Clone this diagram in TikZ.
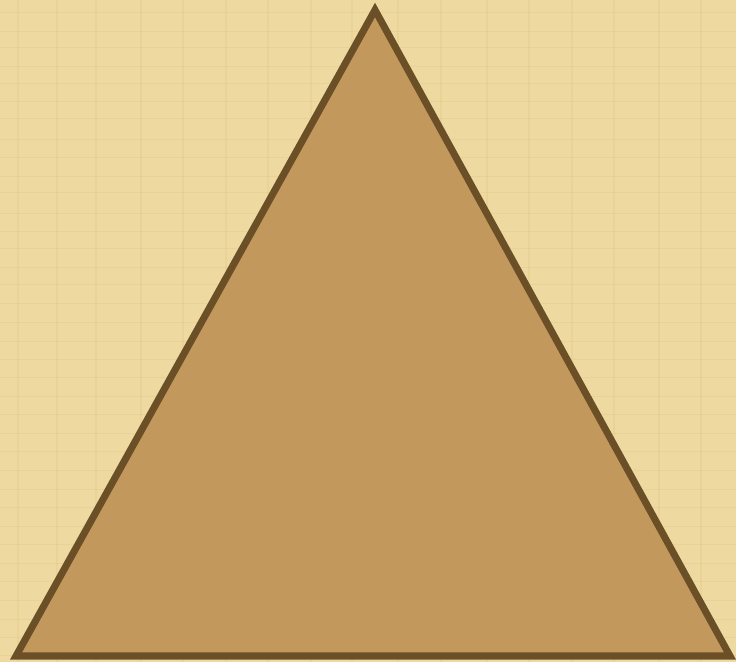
\documentclass[tikz,border=0pt]{standalone}
\usepackage{tikz}
\definecolor{papyrus}{RGB}{238,218,160}
\definecolor{papyrusdark}{RGB}{222,196,130}
\definecolor{pyramidfill}{RGB}{194,152,92}
\definecolor{pyramidline}{RGB}{107,79,38}
\tikzset{
  pyramid/.style={
    draw=pyramidline,
    fill=pyramidfill,
    line width=5pt,
    miter limit=20
  }
}

\begin{document}
\begin{tikzpicture}[x=0.025cm, y=-0.025cm]
      % Background
      \fill[papyrus] (0,0) rectangle (736,662);
      \useasboundingbox (0,0) rectangle (736,662);
      \foreach \yy in {12,31,47,66,83,101,118,139,157,176,192,213,231,248,267,284,303,322,341,359,377,396,414,433,451,470,489,507,526,544,563,581,600,619,637,655}
        \draw[papyrusdark, opacity=0.35, line width=0.6pt] (0,\yy) -- (736,\yy);
      \foreach \xx in {18,57,96,141,183,226,268,311,352,398,441,487,529,572,614,659,701}
        \draw[papyrusdark, opacity=0.3, line width=0.8pt] (\xx,0) -- (\xx,662);

      % Pyramid
      \coordinate (apex) at (375,10);
      \coordinate (left) at (16,656);
      \coordinate (right) at (730,656);
      \draw[pyramid] (apex) -- (right) -- (left) -- cycle;
\end{tikzpicture}
\end{document}
